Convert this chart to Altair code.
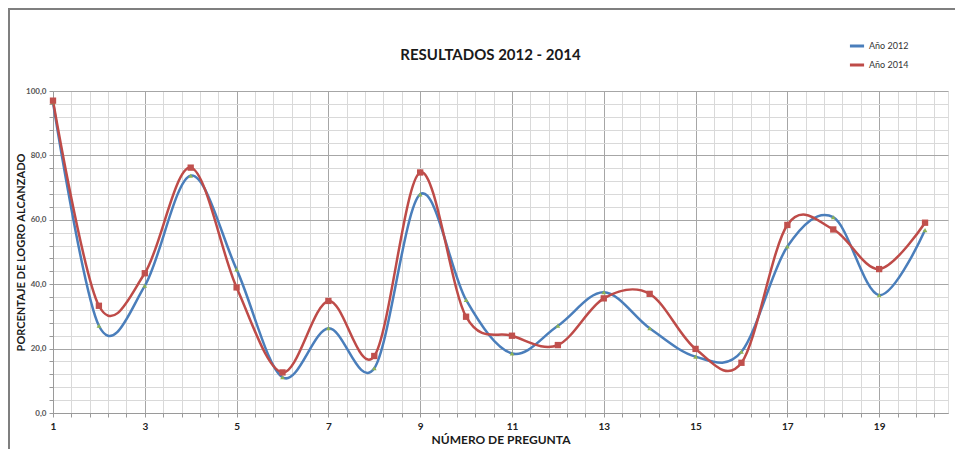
import altair as alt
import pandas as pd

preguntas = list(range(1, 21))
anio_2012 = [96.5, 27.1, 39.5, 73.7, 44.6, 11.1, 26.3, 13.9, 67.9, 35.1,
             18.5, 27.1, 37.5, 26.3, 17.5, 19.0, 51.7, 60.8, 36.6, 56.8]
anio_2014 = [97.0, 33.3, 43.4, 76.2, 39.0, 12.6, 34.8, 17.7, 74.7, 29.9,
             24.0, 21.1, 35.6, 37.0, 19.9, 15.6, 58.4, 57.0, 44.7, 59.1]
series = ["Año 2012", "Año 2014"]
colors = ["#4A7EBB", "#BE4B48"]

df = pd.DataFrame({
    "pregunta": preguntas * 2,
    "valor": anio_2012 + anio_2014,
    "serie": [series[0]] * len(preguntas) + [series[1]] * len(preguntas),
})

x_grid = [round(1 + 0.4 * i, 1) for i in range(49)]
y_grid = list(range(0, 101, 4))

FONT = "Lato"

major_x = "abs(datum.value - round(datum.value)) < 0.01 && round(datum.value) % 2 == 1"
major_y = "datum.value % 20 == 0"

x_enc = alt.X(
    "pregunta:Q",
    scale=alt.Scale(domain=[1, 20.5], nice=False, zero=False),
    axis=alt.Axis(
        values=x_grid, tickCount=500,
        labelExpr=f"{major_x} ? format(datum.value, 'd') : ''",
        title="NÚMERO DE PREGUNTA",
        titleFont=FONT, titleFontSize=12, titleFontWeight="bold", titleColor="#1a1a1a",
        titlePadding=3,
        labelFont=FONT, labelFontSize=10, labelFontWeight="bold", labelColor="#222222",
        labelPadding=4, labelOverlap=False, labelFlush=False,
        tickSize=4, tickColor="#9a9a9a",
        domainColor="#9a9a9a",
        gridColor={"condition": {"test": major_x, "value": "#a6a6a6"}, "value": "#d9d9d9"},
        gridWidth=1,
    ),
)
y_enc = alt.Y(
    "valor:Q",
    scale=alt.Scale(domain=[0, 100], nice=False),
    axis=alt.Axis(
        values=y_grid, tickCount=500,
        labelExpr=f"{major_y} ? replace(format(datum.value, '.1f'), '.', ',') : ''",
        title="PORCENTAJE DE LOGRO ALCANZADO",
        titleFont=FONT, titleFontSize=11, titleFontWeight="bold", titleColor="#1a1a1a",
        titlePadding=-1,
        labelFont=FONT, labelFontSize=8, labelFontWeight="bold", labelColor="#555555",
        labelPadding=3, labelOverlap=False,
        tickSize=4, tickColor="#9a9a9a",
        domainColor="#9a9a9a",
        gridColor={"condition": {"test": major_y, "value": "#a6a6a6"}, "value": "#d9d9d9"},
        gridWidth=1,
    ),
)

frame = alt.Chart(pd.DataFrame({"k": [0]})).mark_rect(
    fill=None, stroke="#7f7f7f", strokeWidth=2
).encode(
    x=alt.value(-44), x2=alt.value(906), y=alt.value(-82), y2=alt.value(370)
)

lines = alt.Chart(df).mark_line(
    interpolate="cardinal", strokeWidth=2.5
).encode(
    x=x_enc,
    y=y_enc,
    color=alt.Color(
        "serie:N",
        scale=alt.Scale(domain=series, range=colors),
        legend=alt.Legend(
            title=None, orient="none", legendX=795, legendY=-54,
            symbolType="stroke", symbolStrokeWidth=3, symbolSize=200,
            labelFont=FONT, labelFontSize=9, labelColor="#333333",
            rowPadding=4, labelOffset=3,
        ),
    ),
    detail="serie:N",
)

pts_2012 = alt.Chart(df).transform_filter(
    alt.datum.serie == series[0]
).mark_point(shape="triangle-up", filled=True, size=22, color="#8DB355", opacity=1).encode(
    x="pregunta:Q", y="valor:Q"
)
pts_2014 = alt.Chart(df).transform_filter(
    alt.datum.serie == series[1]
).mark_point(shape="square", filled=True, size=40, color="#C0504D", opacity=1).encode(
    x="pregunta:Q", y="valor:Q"
)

chart = alt.layer(frame, lines, pts_2012, pts_2014).properties(
    width=895,
    height=322,
    padding={"left": 45, "top": 83, "right": 7, "bottom": 36},
    autosize=alt.AutoSizeParams(type="none"),
    title=alt.TitleParams(
        "RESULTADOS 2012 - 2014", font=FONT, fontSize=15, fontWeight="bold",
        color="#1a1a1a", anchor="middle", dx=-10, offset=0, dy=55,
    ),
).configure_view(stroke=None).configure(background="white")

chart.save("out.html", embed_options={"renderer": "svg", "actions": False})
